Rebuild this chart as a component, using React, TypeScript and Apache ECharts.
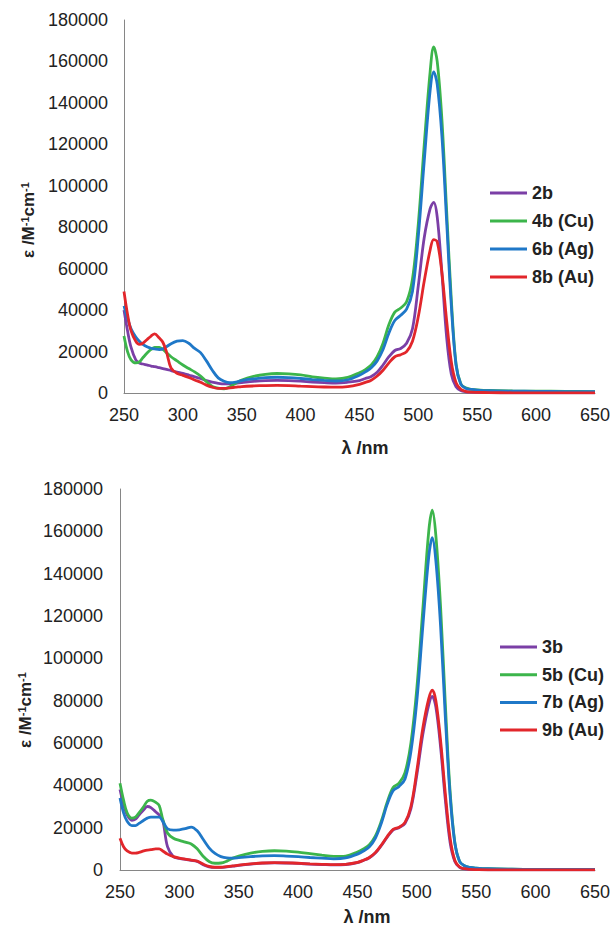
import React, { useEffect, useRef } from "react";
import * as echarts from "echarts";

// Wavelength grid (nm), shared by all spectra
const wavelengths = [
  250, 253, 256, 260, 263, 266, 270, 273, 276, 280, 283, 286, 290, 295, 300, 305, 310, 315, 320, 325,
  330, 335, 340, 345, 350, 360, 370, 380, 390, 400, 410, 420, 430, 440, 450, 455, 460, 465, 470, 475,
  480, 485, 490, 495, 500, 505, 510, 513, 516, 520, 524, 528, 532, 536, 540, 545, 550, 560, 580, 600,
  625, 650,
];

// Top panel
const eps2b = [
  40000, 30000, 22000, 16000, 14500, 14000, 13500, 13000, 12700, 12200, 11800, 11400, 10800, 10100, 9500, 8700, 7800, 7000, 6000, 5300,
  4700, 4400, 4400, 4700, 5000, 5600, 6000, 6100, 6000, 5700, 5300, 5000, 4800, 5200, 6000, 7000, 8000, 10000, 13500, 17500,
  20500, 21500, 24000, 31000, 52000, 75000, 89000, 92000, 85000, 58000, 27000, 9000, 3000, 1200, 600, 400, 300, 200, 100, 100,
  100, 100,
];
const eps4b = [
  27500, 20000, 16000, 14500, 15000, 17000, 19500, 21000, 22000, 22000, 21000, 19500, 17500, 15500, 13500, 11800, 10200, 8200, 5500, 3200,
  2300, 2000, 3000, 4800, 6300, 8000, 9000, 9400, 9200, 8700, 7800, 7200, 6800, 7500, 9800, 11300, 13500, 17500, 24000, 33000,
  39000, 41000, 44000, 55000, 82000, 120000, 155000, 167000, 160000, 132000, 88000, 45000, 14000, 4500, 2500, 1800, 1500, 1200, 1000, 900,
  800, 700,
];
const eps6b = [
  42000, 36000, 31000, 27000, 25000, 23500, 22200, 21600, 21300, 21000, 21300, 22300, 23800, 25000, 25300, 24000, 21500, 19500, 15500, 11000,
  7300, 5700, 5000, 5300, 6000, 6800, 7400, 7600, 7400, 7000, 6500, 6100, 5800, 6400, 8600, 10200, 12200, 15500, 21000, 29000,
  35000, 37500, 40500, 49000, 76000, 112000, 146000, 155000, 149000, 124000, 83000, 42000, 13500, 4300, 2300, 1700, 1400, 1100, 900, 800,
  700, 600,
];
const eps8b = [
  49000, 38000, 30000, 25000, 23500, 24000, 26000, 27500, 28500, 26500, 24500, 20000, 12000, 9500, 8500, 7500, 6300, 5200, 3800, 2800,
  2200, 2200, 2500, 2800, 3100, 3400, 3600, 3700, 3600, 3300, 3100, 2900, 2800, 3100, 4200, 5100, 6200, 8200, 11000, 14500,
  17500, 18500, 20000, 25000, 37000, 54000, 69000, 74000, 73000, 58000, 35000, 15000, 5000, 1800, 800, 400, 300, 200, 100, 100,
  100, 100,
];

// Bottom panel
const eps3b = [
  38000, 31000, 26000, 23500, 24000, 26000, 28500, 30000, 29500, 27500, 26000, 23500, 11000, 6300, 5500, 5000, 4600, 4100, 2500, 1500,
  1200, 1200, 1500, 1800, 2200, 2800, 3200, 3400, 3300, 3100, 2800, 2600, 2400, 2600, 3500, 4500, 5800, 8000, 11500, 15500,
  19000, 20000, 22000, 29000, 45000, 64000, 78000, 82000, 77000, 58000, 33000, 13000, 4000, 1200, 500, 300, 200, 100, 100, 100,
  100, 100,
];
const eps5b = [
  41000, 33000, 27000, 24500, 25000, 27000, 30000, 32500, 33000, 32000, 30500, 24000, 17500, 15000, 14000, 13200, 12300, 10000, 6500, 4000,
  3200, 3300, 4200, 5600, 6600, 8000, 8800, 9100, 8900, 8400, 7700, 7000, 6400, 6600, 8500, 10000, 12000, 16000, 23000, 32000,
  39000, 41000, 46000, 60000, 86000, 123000, 160000, 170000, 158000, 124000, 78000, 37000, 13000, 4000, 2000, 1200, 900, 600, 400, 300,
  300, 300,
];
const eps7b = [
  34000, 27000, 23000, 21000, 21000, 22000, 23500, 24500, 25000, 25000, 25000, 23000, 19500, 18800, 19000, 19500, 20300, 18500, 14500, 10500,
  7800, 6300, 5700, 5600, 5800, 6300, 6700, 6800, 6600, 6300, 5900, 5600, 5300, 5700, 7500, 9000, 11000, 15000, 22000, 31000,
  37500, 39500, 43000, 56000, 80000, 115000, 148000, 157000, 146000, 115000, 72000, 35000, 12500, 4000, 2000, 1200, 900, 600, 400, 300,
  300, 300,
];
const eps9b = [
  15000, 11000, 9000, 8000, 8000, 8300, 9000, 9400, 9600, 10000, 10000, 9000, 7500, 6300, 5600, 5100, 4700, 4200, 2800, 1700,
  1300, 1300, 1600, 1900, 2300, 2900, 3300, 3500, 3400, 3200, 2900, 2700, 2500, 2700, 3600, 4600, 5900, 8200, 11700, 15800,
  19200, 20200, 22500, 30000, 47000, 67000, 81000, 85000, 80000, 61000, 36000, 15000, 4500, 1400, 600, 300, 200, 100, 100, 100,
  100, 100,
];

const xTicks = { min: 250, max: 650, interval: 50 };
const yTicks = { min: 0, max: 180000, interval: 20000 };

const topNames = ["2b", "4b (Cu)", "6b (Ag)", "8b (Au)"];
const bottomNames = ["3b", "5b (Cu)", "7b (Ag)", "9b (Au)"];
const colors = ["#7B3FA6", "#3CB54B", "#1F78C8", "#E2262B"];

const toPairs = (ys: number[]) => wavelengths.map((w, i) => [w, ys[i]]);

export default function App() {
  const ref = useRef<HTMLDivElement>(null);
  useEffect(() => {
    if (!ref.current) return;
    const chart = echarts.init(ref.current, undefined, { renderer: "svg" });
    const font = "Liberation Sans, Arial, sans-serif";
    const axisLine = { show: true, lineStyle: { color: "#868686", width: 1 } };
    const mkX = (gridIndex: number, margin: number) => ({
      type: "value" as const,
      gridIndex,
      ...xTicks,
      axisLine,
      axisTick: { show: false },
      splitLine: { show: false },
      axisLabel: { fontSize: 18, color: "#222", fontFamily: font, margin, formatter: (v: number) => String(v) },
    });
    const mkY = (gridIndex: number, margin: number) => ({
      type: "value" as const,
      gridIndex,
      ...yTicks,
      axisLine,
      axisTick: { show: false },
      splitLine: { show: false },
      axisLabel: { fontSize: 18, color: "#222", fontFamily: font, margin, formatter: (v: number) => String(v) },
    });
    const mkSeries = (name: string, ys: number[], idx: number, color: string) => ({
      type: "line" as const,
      name,
      xAxisIndex: idx,
      yAxisIndex: idx,
      data: toPairs(ys),
      smooth: 0.35,
      symbol: "none",
      lineStyle: { color, width: 2.8 },
      itemStyle: { color },
    });
    const legendText = { fontSize: 18, fontWeight: "bold" as const, color: "#222", fontFamily: font, lineHeight: 20 };
    const yTitle = (x: number, y: number) => ({
      type: "text" as const,
      x,
      y,
      rotation: Math.PI / 2,
      style: {
        text: "{a|ε /M}{s|-1}{a|cm}{s|-1}",
        rich: {
          a: { fontSize: 17, fontWeight: "bold", fontFamily: font, fill: "#222", verticalAlign: "bottom" },
          s: { fontSize: 11, fontWeight: "bold", fontFamily: font, fill: "#222", verticalAlign: "top", padding: [0, 0, 6, 0] },
        },
        align: "center",
        verticalAlign: "middle",
      },
    });
    const xTitle = (x: number, y: number) => ({
      type: "text" as const,
      x,
      y,
      style: {
        text: "λ /nm",
        fontSize: 18,
        fontWeight: "bold",
        fontFamily: font,
        fill: "#222",
        align: "center",
        verticalAlign: "middle",
      },
    });
    const topData = [eps2b, eps4b, eps6b, eps8b];
    const botData = [eps3b, eps5b, eps7b, eps9b];
    chart.setOption({
      animation: false,
      backgroundColor: "#fff",
      grid: [
        { left: 124, top: 20, width: 472, height: 373 },
        { left: 120, top: 489, width: 482, height: 381 },
      ],
      xAxis: [mkX(0, 13), mkX(1, 13)],
      yAxis: [mkY(0, 16), mkY(1, 17)],
      legend: [
        {
          data: topNames,
          orient: "vertical",
          left: 485,
          top: 178,
          icon: "rect",
          itemWidth: 37,
          itemHeight: 3,
          itemGap: 8,
          textStyle: legendText,
        },
        {
          data: bottomNames,
          orient: "vertical",
          left: 495,
          top: 632,
          icon: "rect",
          itemWidth: 37,
          itemHeight: 3,
          itemGap: 7.7,
          textStyle: legendText,
        },
      ],
      graphic: [yTitle(28, 220), yTitle(25, 710), xTitle(365, 448), xTitle(367, 917)],
      series: [
        ...topNames.map((n, i) => mkSeries(n, topData[i], 0, colors[i])),
        ...bottomNames.map((n, i) => mkSeries(n, botData[i], 1, colors[i])),
      ],
    });
    return () => chart.dispose();
  }, []);
  return <div ref={ref} style={{ position: "absolute", left: 0, top: 0, width: 613, height: 928 }} />;
}
